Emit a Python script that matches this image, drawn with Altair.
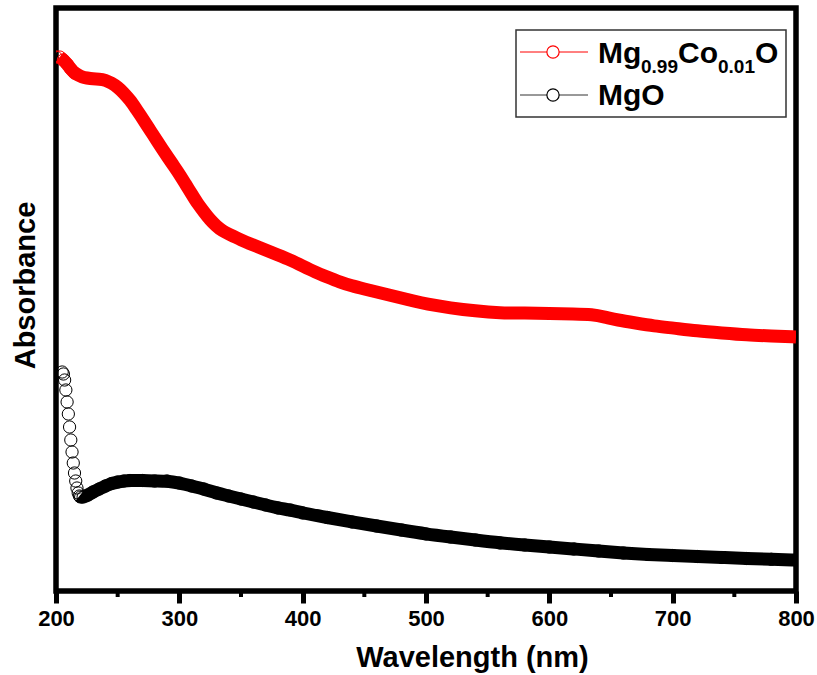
import altair as alt
import pandas as pd

# ---- data (absorbance, arbitrary units) ----
red_wl = [200, 203, 206, 209, 212, 215, 218, 221, 225, 230, 235, 240, 245, 250, 255, 260,
          265, 270, 275, 280, 285, 290, 295, 300, 305, 310, 315, 320, 325, 330, 335, 340,
          350, 360, 370, 380, 390, 400, 410, 420, 430, 440, 450, 460, 470, 480, 490, 500,
          520, 540, 560, 580, 600, 620, 635, 645, 655, 670, 685, 700, 720, 740, 760, 780, 800]
red_abs = [5.34, 5.34, 5.31, 5.27, 5.22, 5.18, 5.16, 5.14, 5.13, 5.12, 5.12, 5.11, 5.08, 5.04, 4.98, 4.91,
           4.82, 4.73, 4.63, 4.54, 4.44, 4.35, 4.26, 4.17, 4.07, 3.97, 3.87, 3.79, 3.71, 3.65, 3.60, 3.57,
           3.51, 3.46, 3.41, 3.36, 3.31, 3.25, 3.19, 3.14, 3.09, 3.05, 3.02, 2.99, 2.96, 2.93, 2.90, 2.87,
           2.83, 2.80, 2.78, 2.78, 2.775, 2.77, 2.765, 2.74, 2.71, 2.68, 2.65, 2.63, 2.60, 2.58, 2.56, 2.55, 2.54]

black_wl = [205, 206, 207, 208, 209, 210, 211, 212, 213, 214, 215, 216, 217, 218, 219, 220, 222,
            226, 230, 235, 240, 245, 250, 255, 260, 270, 280, 290, 300, 310, 320, 330, 340, 350,
            360, 370, 380, 390, 400, 420, 440, 460, 480, 500, 520, 540, 560, 580, 600, 620, 640,
            660, 680, 700, 720, 740, 760, 780, 800]
black_abs = [2.19, 2.17, 2.11, 2.01, 1.89, 1.77, 1.64, 1.51, 1.39, 1.28, 1.18, 1.10, 1.03, 0.98, 0.95, 0.94, 0.94,
             0.96, 0.99, 1.02, 1.05, 1.075, 1.09, 1.10, 1.105, 1.105, 1.10, 1.10, 1.08, 1.05, 1.02, 0.98, 0.95, 0.92,
             0.89, 0.86, 0.83, 0.81, 0.78, 0.735, 0.69, 0.65, 0.61, 0.57, 0.54, 0.51, 0.48, 0.46, 0.44, 0.42, 0.40,
             0.38, 0.365, 0.355, 0.345, 0.335, 0.325, 0.317, 0.31]

major_ticks = [200, 300, 400, 500, 600, 700, 800]
minor_ticks = [250, 350, 450, 550, 650, 750]

RED = "#ff0000"
FONT = "Liberation Sans"

red_df = pd.DataFrame({"wl": red_wl, "abs": red_abs})
black_df = pd.DataFrame({"wl": black_wl, "abs": black_abs})
minor_df = pd.DataFrame({"wl": minor_ticks})

x_scale = alt.Scale(domain=[200, 800], nice=False, zero=False)
y_scale = alt.Scale(domain=[0, 5.83], nice=False, zero=False)

x_axis = alt.Axis(values=major_ticks, title="Wavelength (nm)", format="d",
                  labelFont=FONT, labelFontSize=22, labelFontWeight="bold", labelColor="black",
                  labelPadding=5, labelFlush=False,
                  tickColor="black", tickWidth=5, tickSize=12, domain=False, grid=False,
                  titleFont=FONT, titleFontSize=29, titleFontWeight="bold", titleColor="black",
                  titleX=416, titleY=75, titleAlign="center", titleBaseline="alphabetic")
y_axis = alt.Axis(title="Absorbance", labels=False, ticks=False, domain=False, grid=False,
                  titleFont=FONT, titleFontSize=29, titleFontWeight="bold", titleColor="black",
                  titleAngle=270, titleX=-22, titleY=277, titleAlign="center",
                  titleBaseline="alphabetic")

X = alt.X("wl:Q", scale=x_scale, axis=x_axis)
Y = alt.Y("abs:Q", scale=y_scale, axis=y_axis)

black_line = alt.Chart(black_df).transform_filter("datum.wl >= 219").mark_line(
    color="black", strokeWidth=13, interpolate="basis", clip=True).encode(x=X, y=Y)
black_pts = alt.Chart(black_df).mark_point(
    shape="circle", filled=False, color="black", size=150, strokeWidth=1, opacity=1, clip=True
).encode(x="wl:Q", y="abs:Q")

red_line = alt.Chart(red_df).transform_filter("datum.wl >= 203").mark_line(
    color=RED, strokeWidth=13, interpolate="basis", clip=True).encode(x="wl:Q", y="abs:Q")
red_pts = alt.Chart(red_df).transform_filter("datum.wl <= 215").mark_point(
    shape="circle", filled=False, color=RED, size=150, strokeWidth=1, opacity=1, clip=True
).encode(x="wl:Q", y="abs:Q")

minor = alt.Chart(minor_df).mark_rule(color="black", strokeWidth=4).encode(
    x="wl:Q", y=alt.value(583), y2=alt.value(589))

one = alt.Data(values=[{"k": 0}])

legend_box = alt.Chart(one).mark_rect(fill="white", stroke="#333333", strokeWidth=1.5).encode(
    x=alt.value(460), x2=alt.value(730), y=alt.value(22), y2=alt.value(109))
leg_line_red = alt.Chart(one).mark_rule(color=RED, strokeWidth=1).encode(
    x=alt.value(464), x2=alt.value(532), y=alt.value(44))
leg_line_blk = alt.Chart(one).mark_rule(color="#333333", strokeWidth=1).encode(
    x=alt.value(464), x2=alt.value(532), y=alt.value(87))
leg_pt_red = alt.Chart(one).mark_point(shape="circle", filled=True, fill="white", stroke=RED,
                                       strokeWidth=1.2, size=150, opacity=1).encode(
    x=alt.value(497), y=alt.value(44))
leg_pt_blk = alt.Chart(one).mark_point(shape="circle", filled=True, fill="white", stroke="black",
                                       strokeWidth=1.2, size=150, opacity=1).encode(
    x=alt.value(497), y=alt.value(87))


def txt(s, x, y, size):
    return alt.Chart(one).mark_text(font=FONT, fontWeight="bold", fontSize=size, align="left",
                                    baseline="alphabetic", color="black").encode(
        x=alt.value(x), y=alt.value(y), text=alt.value(s))


legend_texts = [
    txt("Mg", 542, 55, 30),
    txt("0.99", 585, 65, 19),
    txt("Co", 622, 55, 30),
    txt("0.01", 662, 65, 19),
    txt("O", 699, 55, 30),
    txt("MgO", 542, 97, 30),
]

chart = alt.layer(
    black_line, black_pts, red_line, red_pts, minor,
    legend_box, leg_line_red, leg_line_blk, leg_pt_red, leg_pt_blk, *legend_texts
).properties(
    width=740, height=583,
    background="white",
    autosize=alt.AutoSizeParams(type="none"),
    padding={"left": 56, "top": 8, "right": 21, "bottom": 84},
).configure_view(stroke="black", strokeWidth=5.5)

chart.save("out.html", embed_options={"renderer": "svg", "actions": False})
